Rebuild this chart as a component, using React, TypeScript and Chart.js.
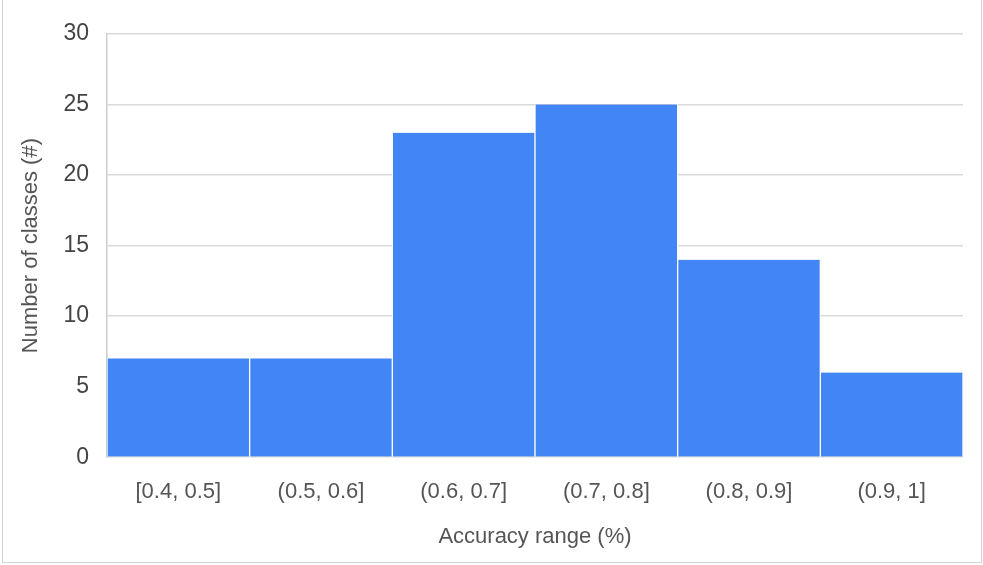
import React, { useEffect, useRef } from "react";
import { Chart, registerables } from "chart.js";

Chart.register(...registerables);

const categories = ["[0.4, 0.5]", "(0.5, 0.6]", "(0.6, 0.7]", "(0.7, 0.8]", "(0.8, 0.9]", "(0.9, 1]"];
const counts = [7, 7, 23, 25, 14, 6];
const yMin = 0;
const yMax = 30;
const yStep = 5;
const xTitle = "Accuracy range (%)";
const yTitle = "Number of classes (#)";

export default function App() {
  const ref = useRef<HTMLCanvasElement | null>(null);

  useEffect(() => {
    if (!ref.current) return;
    const font = "'Liberation Sans', Arial, sans-serif";
    const chart = new Chart(ref.current, {
      type: "bar",
      data: {
        labels: categories,
        datasets: [
          {
            data: counts,
            backgroundColor: "#4285f4",
            borderColor: "#ffffff",
            borderWidth: { top: 0, bottom: 0, left: 1, right: 1 },
            borderSkipped: false,
            barPercentage: 1,
            categoryPercentage: 1,
          },
        ],
      },
      options: {
        animation: false,
        responsive: false,
        maintainAspectRatio: false,
        layout: { padding: { left: 18, right: 20, top: 34, bottom: 15 } },
        plugins: {
          legend: { display: false },
          tooltip: { enabled: false },
        },
        scales: {
          x: {
            grid: { display: false },
            border: { display: false },
            ticks: {
              color: "#555555",
              font: { family: font, size: 22 },
              padding: 14,
              maxRotation: 0,
            },
            title: {
              display: true,
              text: xTitle,
              color: "#555555",
              font: { family: font, size: 22 },
              padding: { top: 4, bottom: 0 },
            },
          },
          y: {
            min: yMin,
            max: yMax,
            ticks: {
              stepSize: yStep,
              color: "#444444",
              font: { family: font, size: 23 },
              padding: 18,
            },
            grid: {
              color: "#dadada",
              lineWidth: 1.5,
              drawTicks: false,
            },
            border: { display: true, color: "#cccccc", width: 1.5 },
            title: {
              display: true,
              text: yTitle,
              color: "#555555",
              font: { family: font, size: 22 },
              padding: { top: 0, bottom: 1 },
            },
          },
        },
      },
    });
    return () => chart.destroy();
  }, []);

  return (
    <div style={{ position: "fixed", left: 0, top: 0, width: 983, height: 565, background: "#ffffff" }}>
      <canvas ref={ref} width={983} height={565} style={{ display: "block", width: 983, height: 565 }} />
      <div
        style={{
          position: "absolute",
          left: 2,
          top: -2,
          width: 978,
          height: 563,
          borderLeft: "1.5px solid #d4d4d4",
          borderRight: "1.5px solid #d4d4d4",
          borderBottom: "1.5px solid #d4d4d4",
          borderTop: "1px solid #d4d4d4",
          pointerEvents: "none",
        }}
      />
    </div>
  );
}
